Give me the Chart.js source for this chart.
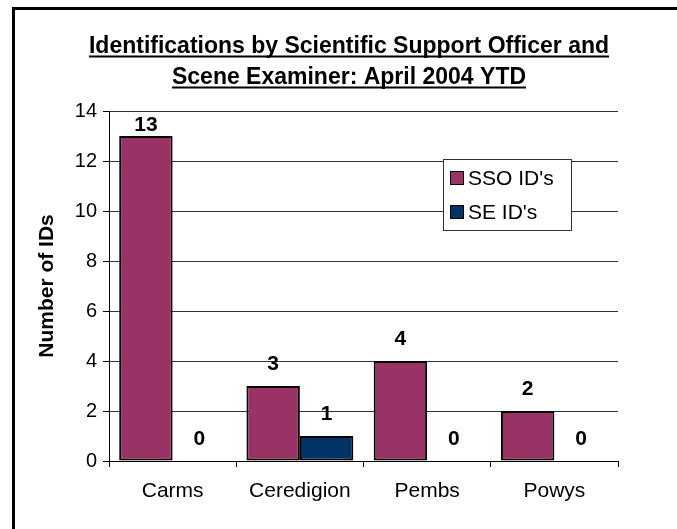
<!DOCTYPE html>
<html><head><meta charset="utf-8">
<script src="https://cdn.jsdelivr.net/npm/chart.js@4.4.0/dist/chart.umd.min.js"></script>
<style>html,body{margin:0;padding:0;background:#fff;overflow:hidden}#wrap{width:677px;height:529px;position:relative}</style>
</head><body><div id="wrap"><canvas id="c"></canvas></div>
<script>
const categories = ['Carms', 'Ceredigion', 'Pembs', 'Powys'];
const ssoValues = [13, 3, 4, 2];
const seValues = [0, 1, 0, 0];
const seriesNames = ["SSO ID's", "SE ID's"];
const seriesColors = ['#993366', '#003366'];
const titleLines = ['Identifications by Scientific Support Officer and', 'Scene Examiner: April 2004 YTD'];
const yAxisTitle = 'Number of IDs';
const yMin = 0, yMax = 14, yStep = 2;

const FONT = "'Liberation Sans', Arial, sans-serif";

const framePlugin = {
  id: 'frame',
  beforeDraw(chart) {
    const ctx = chart.ctx;
    ctx.save();
    ctx.fillStyle = '#fff';
    ctx.fillRect(0, 0, chart.width, chart.height);
    ctx.strokeStyle = '#000';
    ctx.lineWidth = 3;
    ctx.beginPath();
    ctx.moveTo(13.5, chart.height + 5);
    ctx.lineTo(13.5, 8.5);
    ctx.lineTo(chart.width + 5, 8.5);
    ctx.stroke();
    ctx.restore();
  }
};

const titlePlugin = {
  id: 'ulTitle',
  afterDraw(chart) {
    const ctx = chart.ctx;
    ctx.save();
    ctx.font = 'bold 23px ' + FONT;
    ctx.fillStyle = '#000';
    ctx.textAlign = 'center';
    ctx.textBaseline = 'alphabetic';
    const cx = 349;
    const baselines = [53, 84];
    titleLines.forEach((t, i) => {
      ctx.fillText(t, cx, baselines[i]);
      const w = ctx.measureText(t).width;
      ctx.fillRect(cx - w / 2, baselines[i] + 2.5, w, 2);
    });
    ctx.restore();
  }
};

const labelPlugin = {
  id: 'valLabels',
  afterDatasetsDraw(chart) {
    const ctx = chart.ctx;
    const area = chart.chartArea;
    ctx.save();
    ctx.font = 'bold 21px ' + FONT;
    ctx.fillStyle = '#000';
    ctx.textAlign = 'center';
    ctx.textBaseline = 'alphabetic';
    chart.data.datasets.forEach((ds, di) => {
      const meta = chart.getDatasetMeta(di);
      meta.data.forEach((bar, i) => {
        const y = Math.max(bar.y - 16, area.top + 20);
        ctx.fillText(String(ds.data[i]), bar.x, y);
      });
    });
    ctx.restore();
  }
};

const legendPlugin = {
  id: 'boxLegend',
  afterDraw(chart) {
    const ctx = chart.ctx;
    ctx.save();
    const bx = 443.5, by = 159.5, bw = 128, bh = 71;
    ctx.fillStyle = '#fff';
    ctx.fillRect(bx, by, bw, bh);
    ctx.strokeStyle = '#333';
    ctx.lineWidth = 1;
    ctx.strokeRect(bx, by, bw, bh);
    ctx.font = '21px ' + FONT;
    ctx.textBaseline = 'middle';
    ctx.textAlign = 'left';
    chart.data.datasets.forEach((ds, i) => {
      const cy = 178 + i * 34;
      ctx.fillStyle = ds.backgroundColor;
      ctx.fillRect(450, cy - 7, 14, 14);
      ctx.strokeStyle = '#000';
      ctx.lineWidth = 1;
      ctx.strokeRect(450.5, cy - 6.5, 13, 13);
      ctx.fillStyle = '#000';
      ctx.fillText(ds.label, 468, cy + 1);
    });
    ctx.restore();
  }
};

new Chart(document.getElementById('c'), {
  type: 'bar',
  data: {
    labels: categories,
    datasets: [
      { label: seriesNames[0], data: ssoValues, backgroundColor: seriesColors[0], borderColor: '#000', borderWidth: 2, borderSkipped: false },
      { label: seriesNames[1], data: seValues, backgroundColor: seriesColors[1], borderColor: '#000', borderWidth: 2, borderSkipped: false }
    ]
  },
  options: {
    responsive: true,
    maintainAspectRatio: false,
    animation: false,
    devicePixelRatio: 1,
    layout: { padding: { top: 111, left: 35, right: 59, bottom: 10 } },
    datasets: { bar: { categoryPercentage: 0.84, barPercentage: 1.0 } },
    plugins: { legend: { display: false }, title: { display: false }, tooltip: { enabled: false } },
    scales: {
      x: {
        grid: { display: true, drawOnChartArea: false, offset: true, tickLength: 6, color: '#000', tickColor: '#000' },
        border: { color: '#000', width: 1 },
        ticks: { color: '#000', padding: 12, font: { family: FONT, size: 21 } },
        afterFit(s) { s.height = 58; }
      },
      y: {
        min: yMin, max: yMax,
        ticks: { stepSize: yStep, color: '#000', padding: 6, font: { family: FONT, size: 20 } },
        grid: { color: '#333', tickColor: '#000', tickLength: 6 },
        border: { color: '#000', width: 1 },
        title: { display: true, text: yAxisTitle, color: '#000', padding: 0, font: { family: FONT, size: 21, weight: 'bold' } },
        afterFit(s) { s.width = 74; }
      }
    }
  },
  plugins: [framePlugin, titlePlugin, labelPlugin, legendPlugin]
});
</script></body></html>
